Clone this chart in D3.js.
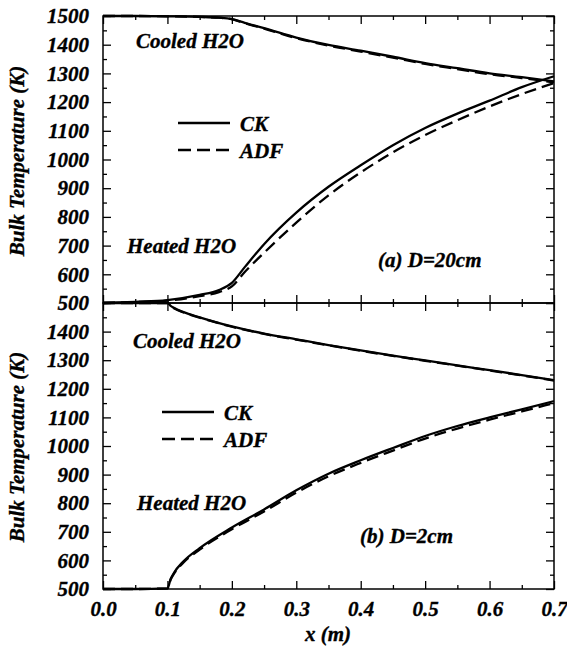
<!DOCTYPE html>
<html><head><meta charset="utf-8">
<script src="https://cdn.jsdelivr.net/npm/d3@7"></script>
<style>
body{margin:0;background:#fff;}
</style></head>
<body><svg id="c" width="567" height="647"></svg>
<script>
// ---- data ----
const xTop = [0, 0.05, 0.1, 0.15, 0.18, 0.2, 0.22, 0.25, 0.3, 0.35, 0.4, 0.45, 0.5, 0.55, 0.6, 0.65, 0.7];
const topCooledCK  = [1500,1500,1499,1497,1494,1489,1476,1458,1425,1399,1379,1358,1336,1318,1300,1287,1272];
const topCooledADF = [1500,1500,1499,1497,1494,1489,1475,1456,1423,1397,1376,1355,1333,1315,1297,1284,1269];
const topHeatedCK  = [500,504,510,528,545,570,625,705,815,905,980,1050,1110,1160,1205,1252,1290];
const topHeatedADF = [500,503,508,524,538,558,608,675,780,875,955,1025,1085,1137,1185,1228,1266];

const xBot = [0, 0.05, 0.1, 0.105, 0.11, 0.125, 0.15, 0.2, 0.25, 0.3, 0.35, 0.4, 0.45, 0.5, 0.55, 0.6, 0.65, 0.7];
const botCooledCK  = [1500,1500,1500,1490,1483,1468,1450,1418,1393,1373,1353,1334,1316,1299,1282,1265,1248,1230];
const botCooledADF = [1500,1500,1500,1489,1482,1467,1449,1417,1392,1372,1352,1333,1315,1298,1281,1264,1247,1229];
const botHeatedCK  = [500,500,502,535,556,597,643,715,778,845,903,950,993,1035,1070,1100,1128,1157];
const botHeatedADF = [500,500,502,533,553,593,638,709,771,837,894,941,984,1026,1061,1092,1121,1150];

const xTicks = [0,0.1,0.2,0.3,0.4,0.5,0.6,0.7];
const xMinor = [0.05,0.15,0.25,0.35,0.45,0.55,0.65];
const yTicksTop = [500,600,700,800,900,1000,1100,1200,1300,1400,1500];
const yTicksBot = [500,600,700,800,900,1000,1100,1200,1300,1400];
const yMinor = [550,650,750,850,950,1050,1150,1250,1350,1450];
const seriesNames = ["CK","ADF"];

// ---- layout ----
const FONT = "'Liberation Serif', 'Times New Roman', Tinos, 'DejaVu Serif', serif";
const svg = d3.select("#c");
const L=103, R=554;
const x = d3.scaleLinear([0,0.7],[L,R]);
const yTop = d3.scaleLinear([500,1500],[303,16]);
const yBot = d3.scaleLinear([500,1500],[589,303]);
const FS = 21;

function styleText(sel){
  return sel.attr("font-family", FONT).attr("font-weight","bold").attr("font-style","italic")
    .attr("font-size", FS).attr("fill","#000").attr("stroke","#000").attr("stroke-width",0.35);
}

function panel(y, yTicks, showX, data, texts, legendPos){
  const g = svg.append("g");
  const top = y(1500), bot = y(500);
  const mk = (axis, tr, vals, size, labels, pad) => {
    const a = g.append("g").attr("transform", tr)
      .call(axis.tickValues(vals).tickSize(size).tickPadding(pad||0)
        .tickFormat(labels ? labels : ""));
    a.attr("font-family", FONT).attr("font-size", FS);
    a.select(".domain").remove();
    a.selectAll("line").attr("stroke","#000").attr("stroke-width",1.3);
    styleText(a.selectAll("text"));
    return a;
  };
  mk(d3.axisLeft(y), `translate(${L},0)`, yTicks, -8, d3.format("d"), 14);
  mk(d3.axisLeft(y), `translate(${L},0)`, yMinor, -4, null);
  mk(d3.axisRight(y), `translate(${R},0)`, yTicks.concat([1500]), -8, null);
  mk(d3.axisRight(y), `translate(${R},0)`, yMinor, -4, null);
  mk(d3.axisTop(x), `translate(0,${top})`, xTicks, -8, null);
  mk(d3.axisTop(x), `translate(0,${top})`, xMinor, -4, null);
  mk(d3.axisBottom(x), `translate(0,${bot})`, xTicks, -8, showX ? d3.format(".1f") : null, 12);
  mk(d3.axisBottom(x), `translate(0,${bot})`, xMinor, -4, null);
  g.append("rect").attr("x",L).attr("y",top).attr("width",R-L).attr("height",bot-top)
    .attr("fill","none").attr("stroke","#000").attr("stroke-width",1.5);

  const line = (xs) => d3.line().x((d,i)=>x(xs[i])).y(d=>y(d)).curve(d3.curveMonotoneX);
  data.forEach(s=>{
    g.append("path").datum(s.v).attr("d", line(s.x))
      .attr("fill","none").attr("stroke","#000").attr("stroke-width",2.3)
      .attr("stroke-dasharray", s.dash ? "12,6" : null);
  });
  texts.forEach(t=>{
    styleText(g.append("text").attr("x",t[0]).attr("y",t[1])).text(t[2]);
  });
  seriesNames.forEach((n,i)=>{
    const ly = legendPos[1] + i*27;
    g.append("line").attr("x1",legendPos[0]).attr("x2",legendPos[0]+52).attr("y1",ly).attr("y2",ly)
      .attr("stroke","#000").attr("stroke-width",2.3).attr("stroke-dasharray", i ? "13,6" : null);
    styleText(g.append("text").attr("x",legendPos[0]+62).attr("y",ly+8)).text(n);
  });
}

panel(yTop, yTicksTop, false, [
  {x:xTop, v:topCooledADF, dash:true},
  {x:xTop, v:topCooledCK},
  {x:xTop, v:topHeatedADF, dash:true},
  {x:xTop, v:topHeatedCK}
], [[136,48,"Cooled H2O"],[127,253,"Heated H2O"],[378,267,"(a) D=20cm"]], [178,123]);

panel(yBot, yTicksBot, true, [
  {x:xBot, v:botCooledADF, dash:true},
  {x:xBot, v:botCooledCK},
  {x:xBot, v:botHeatedADF, dash:true},
  {x:xBot, v:botHeatedCK}
], [[133,348,"Cooled H2O"],[137,510,"Heated H2O"],[360,543,"(b) D=2cm"]], [162,412]);

styleText(svg.append("text").attr("transform","translate(24,161) rotate(-90)").attr("text-anchor","middle"))
  .text("Bulk Temperature (K)");
styleText(svg.append("text").attr("transform","translate(24,447) rotate(-90)").attr("text-anchor","middle"))
  .text("Bulk Temperature (K)");
styleText(svg.append("text").attr("x",328).attr("y",641).attr("text-anchor","middle"))
  .text("x (m)");
</script></body></html>
